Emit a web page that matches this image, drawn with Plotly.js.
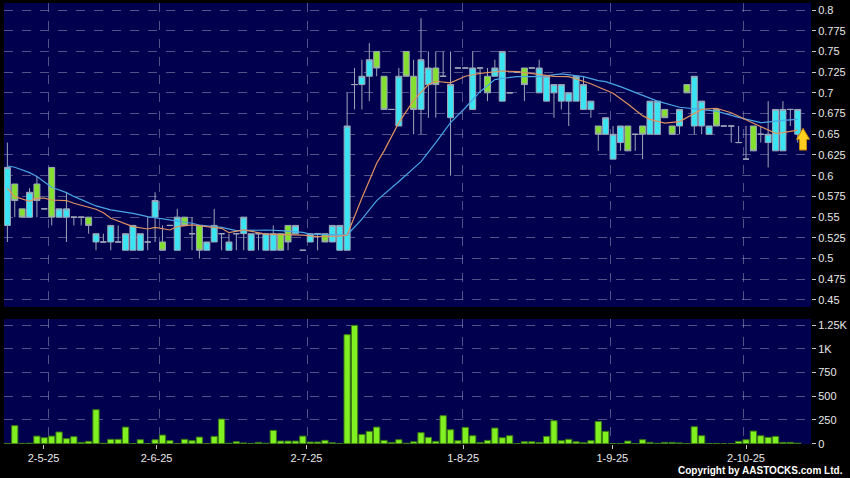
<!DOCTYPE html>
<html><head><meta charset="utf-8">
<script src="https://cdn.plot.ly/plotly-3.0.1.min.js"></script>
<style>html,body{margin:0;padding:0;background:#000;}#chart{width:850px;height:478px;}</style>
</head><body><div id="chart"></div>
<script>
// ---- price data (one entry per trading bar) ----
const openP  = [0.54,0.59,0.56,0.55,0.59,0.56,0.61,0.55,0.55,0.55, 0.55,0.55,0.52,0.52,0.52,0.52,0.51,0.51,0.51,0.52, 0.55,0.52,0.54,0.51,0.55,0.53,0.54,0.51,0.52,0.53, 0.51,0.53,0.53,0.51,0.53,0.51,0.51,0.53,0.54,0.53, 0.51,0.52,0.53,0.53,0.52,0.51,0.51,0.71,0.71,0.72, 0.75,0.72,0.68,0.66,0.75,0.72,0.68,0.71,0.73,0.72, 0.67,0.73,0.73,0.68,0.73,0.72,0.72,0.69,0.70,0.725, 0.73,0.73,0.70,0.69,0.70,0.69,0.69,0.69,0.68,0.68, 0.66,0.65,0.62,0.64,0.66,0.65,0.66,0.65,0.65,0.68, 0.66,0.66,0.71,0.66,0.66,0.65,0.68,0.66,0.66,0.64, 0.62,0.66,0.65,0.64,0.63,0.63,0.68,0.65];
const highP  = [0.64,0.59,0.56,0.585,0.60,0.56,0.61,0.56,0.58,0.55, 0.55,0.55,0.53,0.53,0.54,0.54,0.53,0.54,0.53,0.55, 0.58,0.54,0.54,0.56,0.55,0.55,0.54,0.52,0.56,0.53, 0.53,0.53,0.55,0.53,0.53,0.53,0.54,0.53,0.54,0.54, 0.51,0.53,0.53,0.53,0.54,0.54,0.70,0.73,0.74,0.76, 0.75,0.72,0.68,0.73,0.75,0.74,0.79,0.75,0.75,0.75, 0.75,0.73,0.73,0.75,0.73,0.73,0.74,0.75,0.70,0.725, 0.73,0.73,0.74,0.72,0.71,0.71,0.70,0.72,0.72,0.69, 0.66,0.67,0.66,0.66,0.66,0.65,0.66,0.69,0.69,0.68, 0.66,0.68,0.71,0.72,0.69,0.66,0.68,0.66,0.66,0.66, 0.66,0.66,0.66,0.69,0.68,0.69,0.68,0.68];
const lowP   = [0.52,0.55,0.55,0.55,0.55,0.56,0.54,0.55,0.52,0.54, 0.54,0.53,0.51,0.52,0.51,0.52,0.51,0.51,0.51,0.51, 0.52,0.51,0.54,0.51,0.54,0.51,0.50,0.51,0.52,0.51, 0.51,0.51,0.51,0.51,0.51,0.51,0.51,0.51,0.51,0.53, 0.51,0.52,0.51,0.52,0.52,0.51,0.51,0.68,0.68,0.69, 0.72,0.68,0.68,0.66,0.72,0.65,0.65,0.67,0.67,0.72, 0.60,0.73,0.73,0.68,0.70,0.69,0.72,0.69,0.70,0.725, 0.69,0.73,0.70,0.69,0.67,0.68,0.66,0.69,0.68,0.67, 0.63,0.65,0.62,0.63,0.63,0.63,0.62,0.65,0.65,0.67, 0.65,0.65,0.70,0.65,0.65,0.65,0.66,0.66,0.64,0.64, 0.62,0.63,0.64,0.61,0.63,0.63,0.66,0.64];
const closeP = [0.61,0.57,0.55,0.58,0.57,0.56,0.55,0.56,0.56,0.55, 0.55,0.54,0.53,0.52,0.54,0.52,0.53,0.54,0.53,0.52, 0.57,0.51,0.54,0.55,0.54,0.53,0.51,0.52,0.54,0.53, 0.52,0.53,0.55,0.53,0.53,0.53,0.53,0.51,0.52,0.54, 0.51,0.53,0.53,0.52,0.54,0.54,0.66,0.71,0.72,0.74, 0.73,0.68,0.68,0.72,0.72,0.68,0.74,0.73,0.71,0.72, 0.71,0.73,0.73,0.73,0.73,0.70,0.73,0.75,0.70,0.725, 0.71,0.73,0.73,0.72,0.71,0.71,0.70,0.72,0.71,0.69, 0.65,0.67,0.65,0.66,0.63,0.65,0.65,0.69,0.69,0.67, 0.65,0.68,0.70,0.72,0.69,0.66,0.66,0.66,0.66,0.64, 0.62,0.63,0.65,0.65,0.68,0.68,0.68,0.68];
// volume (thousands of shares)
const volume = [3,190,3,5,80,63,80,123,53,74, 14,25,358,5,46,46,175,2,42,2, 42,91,32,2,46,32,70,2,77,260, 5,21,8,3,14,5,140,28,28,28, 80,18,18,35,10,3,1148,1246,98,130, 175,35,14,42,5,21,116,67,25,295, 147,32,172,84,14,35,165,63,84,2, 21,21,14,77,242,32,46,21,10,32, 235,130,2,3,28,2,42,14,4,14, 14,8,2,179,84,3,3,1,2,25, 42,133,84,67,77,14,14,5];
// moving averages (bar index, value)
const maFastIdx = [0,1,3,4,5,6,8,9,12,13,14,17,19,20,22,23,25,26,29,30,32,35,38,40,42,45,46,48,50,51,53,55,57,58,60,62,64,67,69,71,74,76,77,79,80,82,84,86,87,89,91,92,94,96,98,101,104,105,107];
const maFastVal = [0.5848,0.5748,0.569,0.573,0.573,0.5707,0.570,0.5667,0.5595,0.5554,0.5486,0.5385,0.5357,0.5377,0.5345,0.5385,0.5406,0.5395,0.5365,0.5312,0.5345,0.5296,0.5284,0.5284,0.5264,0.5272,0.5284,0.573,0.615,0.630,0.664,0.691,0.710,0.714,0.712,0.720,0.7236,0.7264,0.7256,0.7236,0.720,0.7195,0.7165,0.711,0.707,0.6995,0.6865,0.6725,0.668,0.6635,0.6653,0.670,0.680,0.6814,0.676,0.6633,0.6512,0.652,0.655];
const maSlowIdx = [0,1,3,4,6,8,9,12,14,17,19,21,23,25,26,29,31,35,37,40,41,44,46,48,50,53,56,58,60,62,64,66,67,69,72,75,78,80,81,83,86,88,91,94,96,99,102,105,107];
const maSlowVal = [0.6117,0.6102,0.6037,0.599,0.586,0.5796,0.575,0.5635,0.5587,0.5546,0.5506,0.5482,0.5458,0.5426,0.5405,0.5377,0.5337,0.5345,0.5337,0.5316,0.5296,0.5284,0.5284,0.5475,0.570,0.593,0.617,0.640,0.664,0.682,0.7014,0.716,0.7175,0.7195,0.7195,0.7228,0.7195,0.7148,0.7135,0.7075,0.6965,0.690,0.6826,0.680,0.678,0.6705,0.664,0.6668,0.668];
// axis ticks
const dateTickPos  = [4.9, 20.2, 40.5, 61.7, 81.9, 100];
const dateTickText = ['2-5-25','2-6-25','2-7-25','1-8-25','1-9-25','2-10-25'];
const dateGridPos  = [5.6, 20.6, 40.6, 61.6, 81.6, 99.6];
const priceTicks    = [0.45,0.475,0.5,0.525,0.55,0.575,0.6,0.625,0.65,0.675,0.7,0.725,0.75,0.775,0.8];
const priceTickText = ['0.45','0.475','0.5','0.525','0.55','0.575','0.6','0.625','0.65','0.675','0.7','0.725','0.75','0.775','0.8'];
const volTicks    = [0,250,500,750,1000,1250];
const volTickText = ['0','250','500','750','1K','1.25K'];

const barIdx = closeP.map((_, i) => i);
const gridColor = 'rgba(150,150,190,0.55)';
const tickFont = {family:'Liberation Sans, Arial, sans-serif', size:11, color:'#e8e8e8'};

const traces = [
  {type:'candlestick', x:barIdx, open:openP, high:highP, low:lowP, close:closeP,
   xaxis:'x', yaxis:'y', whiskerwidth:0, hoverinfo:'skip',
   increasing:{line:{color:'#9ea6b8', width:1}, fillcolor:'#3be4f2'},
   decreasing:{line:{color:'#9ea6b8', width:1}, fillcolor:'#84e030'}},
  {type:'scatter', mode:'lines', x:maSlowIdx, y:maSlowVal, xaxis:'x', yaxis:'y',
   line:{color:'#4aa6e6', width:1.2}, hoverinfo:'skip'},
  {type:'scatter', mode:'lines', x:maFastIdx, y:maFastVal, xaxis:'x', yaxis:'y',
   line:{color:'#e0925e', width:1.2}, hoverinfo:'skip'},
  {type:'bar', x:barIdx, y:volume, xaxis:'x2', yaxis:'y2',
   marker:{color:'#80f020', line:{color:'#3c7a14', width:1}}, hoverinfo:'skip'}
];

const xRange = [-0.456, 108.8];
const layout = {
  width:850, height:478,
  paper_bgcolor:'#000000', plot_bgcolor:'#00004e',
  margin:{l:4, r:39, t:3, b:34},
  showlegend:false,
  boxgap:0.1, boxgroupgap:0.1, bargap:0.15,
  font:tickFont,
  xaxis:{anchor:'y', domain:[0,1], range:xRange, rangeslider:{visible:false},
         tickmode:'array', tickvals:dateGridPos, showticklabels:false, ticks:'',
         showgrid:true, gridcolor:gridColor, griddash:'dash', gridwidth:1, zeroline:false, showline:false},
  xaxis2:{anchor:'y2', domain:[0,1], range:xRange, matches:'x',
         tickmode:'array', tickvals:dateTickPos, ticktext:dateTickText,
         ticks:'outside', ticklen:4, tickcolor:'#c8c8c8', showgrid:false,
         minor:{tickmode:'array', tickvals:dateGridPos, showgrid:true, gridcolor:gridColor, griddash:'dash', ticks:''},
         zeroline:false, showline:false, tickfont:tickFont},
  yaxis:{anchor:'x', domain:[0.3107,1], range:[0.44156,0.80845], side:'right',
         tickmode:'array', tickvals:priceTicks, ticktext:priceTickText,
         ticks:'outside', ticklen:4, tickcolor:'#c8c8c8',
         showgrid:true, gridcolor:gridColor, griddash:'dash', zeroline:false, showline:false, tickfont:tickFont},
  yaxis2:{anchor:'x2', domain:[0,0.2834], range:[-3,1313], side:'right',
         tickmode:'array', tickvals:volTicks, ticktext:volTickText,
         ticks:'outside', ticklen:4, tickcolor:'#c8c8c8',
         showgrid:true, gridcolor:gridColor, griddash:'dash', zeroline:false, showline:false, tickfont:tickFont},
  shapes:[
    {type:'path', xref:'x', yref:'y',
     path:'M 106.84 0.6440 L 107.72 0.6572 L 108.60 0.6440 L 108.19 0.6440 L 108.19 0.6310 L 107.25 0.6310 L 107.25 0.6440 Z',
     fillcolor:'#ffd020', line:{color:'#c98a00', width:1}, layer:'above'}
  ],
  annotations:[
    {text:'<b>Copyright by AASTOCKS.com Ltd.</b>', xref:'paper', yref:'paper',
     x:1.0421, y:-0.0612, xanchor:'right', yanchor:'middle', showarrow:false,
     font:{family:'Liberation Sans, Arial, sans-serif', size:10, color:'#ffffff'}}
  ]
};

Plotly.newPlot('chart', traces, layout, {staticPlot:true, displayModeBar:false});
</script>
</body></html>
